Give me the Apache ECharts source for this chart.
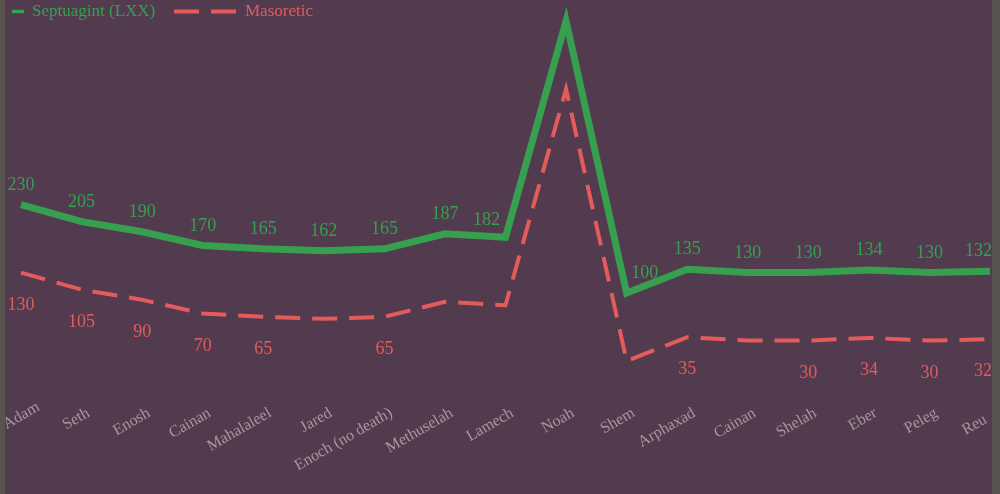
<!DOCTYPE html>
<html>
<head>
<meta charset="utf-8">
<script src="https://cdn.jsdelivr.net/npm/echarts@6/dist/echarts.min.js"></script>
<style>
  html, body { margin: 0; padding: 0; background: #57534f; }
  #chart { position: absolute; left: 5px; top: 0; width: 987px; height: 494px; }
</style>
</head>
<body>
<div id="chart"></div>
<script>
const categories = ['Adam', 'Seth', 'Enosh', 'Cainan', 'Mahalaleel', 'Jared', 'Enoch (no death)', 'Methuselah', 'Lamech', 'Noah', 'Shem', 'Arphaxad', 'Cainan', 'Shelah', 'Eber', 'Peleg', 'Reu'];
const lxxValues = [230, 205, 190, 170, 165, 162, 165, 187, 182, 500, 100, 135, 130, 130, 134, 130, 132];
const masoreticValues = [130, 105, 90, 70, 65, 62, 65, 87, 82, 400, 0, 35, 30, 30, 34, 30, 32];
const lxxHiddenLabels = [9];
const masoreticHiddenLabels = [5, 7, 8, 9, 10, 12];

const GREEN = '#36a04f';
const RED = '#e45b5b';
const FONT = '"Liberation Serif", serif';
const CLEAR = 'rgba(0,0,0,0)';

// label nudges (style only) so labels sit clear of the steep Noah segments
const lxxLabelNudges = { 8: [-19, 3], 10: [18, 0] };

const chart = echarts.init(document.getElementById('chart'));

function makeLayout(nudges) {
  return function (p) {
    const n = nudges[p.dataIndex] || [0, 0];
    let dx = n[0], dy = n[1];
    const r = p.labelRect;
    const W = chart.getWidth();
    if (r.x + dx + r.width > W) dx = W - (r.x + r.width);
    if (r.x + dx < 0) dx = -r.x;
    return { dx: dx, dy: dy };
  };
}

const lastIdx = categories.length - 1;
const axisData = categories.map((c, i) => {
  if (i === 0) return { value: c, textStyle: { padding: [0, -20, 0, 0] } };
  if (i === lastIdx) return { value: c, textStyle: { padding: [0, 5, 0, 0] } };
  return c;
});

const lxxData = lxxValues.map((v, i) => ({ value: v, label: { show: lxxHiddenLabels.indexOf(i) < 0 } }));
const masData = masoreticValues.map((v, i) => ({ value: v, label: { show: masoreticHiddenLabels.indexOf(i) < 0 } }));

chart.setOption({
  backgroundColor: '#523b4e',
  animation: false,
  textStyle: { fontFamily: FONT },
  legend: [
    {
      data: ['Septuagint (LXX)'],
      left: 7, top: 3, padding: 0,
      icon: 'rect', itemWidth: 12, itemHeight: 3.5,
      itemStyle: { color: GREEN, opacity: 1 },
      selectedMode: false,
      textStyle: { color: GREEN, fontSize: 17, fontFamily: FONT, padding: [0, 0, 0, 3] }
    },
    {
      data: ['Masoretic'],
      left: 167, top: 3, padding: 0,
      itemWidth: 66, itemHeight: 14,
      itemStyle: { color: CLEAR },
      lineStyle: { width: 4 },
      selectedMode: false,
      textStyle: { color: RED, fontSize: 17, fontFamily: FONT }
    }
  ],
  grid: { left: 16, right: 2, top: 21, bottom: 133, containLabel: false, outerBoundsMode: 'none' },
  xAxis: {
    type: 'category',
    boundaryGap: false,
    data: axisData,
    axisLine: { show: false },
    axisTick: { show: false },
    splitLine: { show: false },
    axisLabel: {
      interval: 0, rotate: 30, margin: 55,
      color: '#a8979f', fontSize: 16, fontFamily: FONT,
      padding: [0, -8, 0, 0]
    }
  },
  yAxis: {
    type: 'value', min: 0, max: 500, show: false,
    splitLine: { show: false }
  },
  series: [
    {
      name: 'Septuagint (LXX)',
      type: 'line',
      data: lxxData,
      clip: false,
      symbol: 'circle', symbolSize: 1, showSymbol: true,
      itemStyle: { color: CLEAR, borderWidth: 0 },
      lineStyle: { color: GREEN, width: 7, join: 'miter', miterLimit: 10, cap: 'butt' },
      label: { show: true, position: 'top', distance: 10, color: GREEN, fontSize: 18, fontFamily: FONT },
      labelLayout: makeLayout(lxxLabelNudges),
      emphasis: { disabled: true },
      z: 3
    },
    {
      name: 'Masoretic',
      type: 'line',
      data: masData,
      clip: false,
      symbol: 'circle', symbolSize: 1, showSymbol: true,
      itemStyle: { color: CLEAR, borderWidth: 0 },
      lineStyle: { color: RED, width: 4, type: [25, 12], join: 'miter', miterLimit: 10, cap: 'butt' },
      label: { show: true, position: 'bottom', distance: 23, color: RED, fontSize: 18, fontFamily: FONT },
      labelLayout: makeLayout({}),
      emphasis: { disabled: true },
      z: 2
    }
  ]
});
</script>
</body>
</html>
